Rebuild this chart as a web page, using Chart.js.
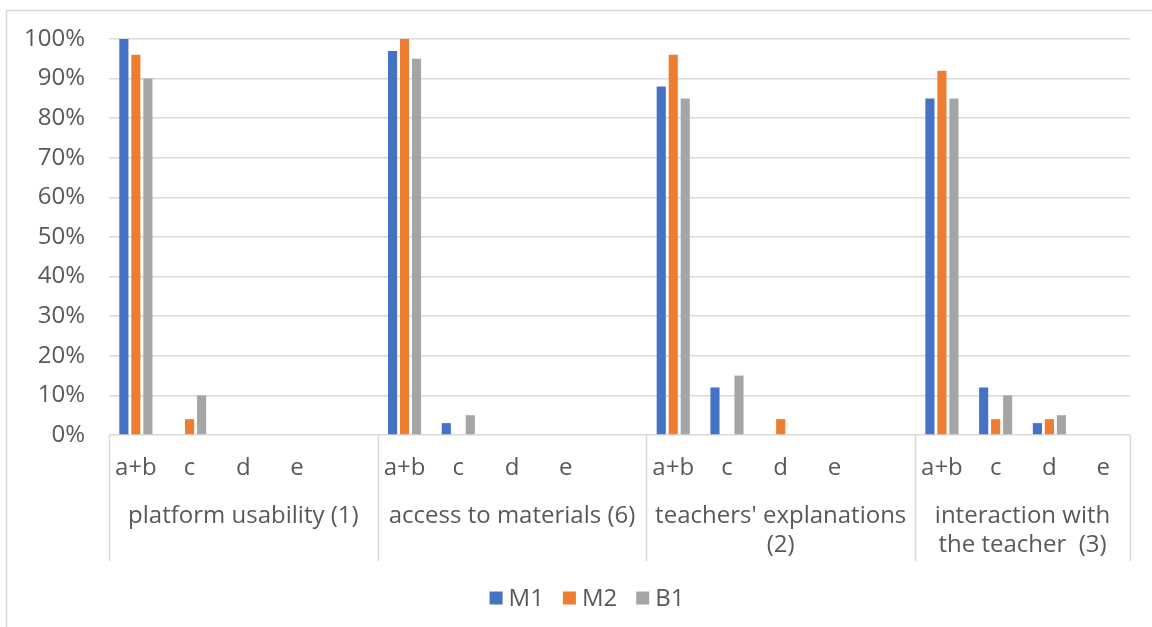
<!DOCTYPE html>
<html>
<head>
<meta charset="utf-8">
<script src="https://cdn.jsdelivr.net/npm/chart.js@4"></script>
<style>
  html, body { margin: 0; padding: 0; background: #fff; }
  canvas { display: block; }
</style>
</head>
<body>
<canvas id="chart" width="1152" height="627"></canvas>
<script>
// Answer categories for each question block (blank slot separates the blocks)
const subLabels = ['a+b', 'c', 'd', 'e', '',
                   'a+b', 'c', 'd', 'e', '',
                   'a+b', 'c', 'd', 'e', '',
                   'a+b', 'c', 'd', 'e'];

// Question blocks and how many category slots each one spans
const groupNames = [
  ['platform usability (1)'],
  ['access to materials (6)'],
  ["teachers' explanations", '(2)'],
  ['interaction with', 'the teacher  (3)']
];
const groupSizes = [5, 5, 5, 4];

// Share of respondents per answer (%)
const seriesNames = ['M1', 'M2', 'B1'];
const m1Values = [100, 0, 0, 0, null,  97, 3, 0, 0, null,  88, 12, 0, 0, null,  85, 12, 3, 0];
const m2Values = [ 96, 4, 0, 0, null, 100, 0, 0, 0, null,  96,  0, 4, 0, null,  92,  4, 4, 0];
const b1Values = [ 90, 10, 0, 0, null, 95, 5, 0, 0, null,  85, 15, 0, 0, null,  85, 10, 5, 0];

const seriesColors = ['#4472C4', '#ED7D31', '#A5A5A5'];
const yTicks = [0, 10, 20, 30, 40, 50, 60, 70, 80, 90, 100];

const FONT_FAMILY = '"Open Sans", "Noto Sans", sans-serif';
const FONT_SIZE = 24;
const TEXT_COLOR = '#595959';
const LINE_COLOR = '#d9d9d9';

// Draws the outer frame, block dividers, block titles and the legend
const categoryFrame = {
  id: 'categoryFrame',
  afterDraw(chart) {
    const ctx = chart.ctx;
    const x = chart.scales.x;
    const area = chart.chartArea;
    const n = subLabels.length;

    ctx.save();
    // outer frame (left and top edges)
    ctx.strokeStyle = LINE_COLOR;
    ctx.lineWidth = 1.5;
    ctx.beginPath();
    ctx.moveTo(6.5, chart.height);
    ctx.lineTo(6.5, 10.5);
    ctx.lineTo(chart.width, 10.5);
    ctx.stroke();

    // boundary pixel between slot b-1 and slot b
    const edge = (b) => {
      if (b <= 0) return area.left;
      if (b >= n) return area.right;
      return (x.getPixelForValue(b - 1) + x.getPixelForValue(b)) / 2;
    };

    const bounds = [0];
    groupSizes.forEach((s) => bounds.push(bounds[bounds.length - 1] + s));

    ctx.beginPath();
    bounds.forEach((b) => {
      const px = Math.round(edge(b)) + 0.5;
      ctx.moveTo(px, area.bottom);
      ctx.lineTo(px, area.bottom + 126);
    });
    ctx.stroke();

    // block titles
    ctx.fillStyle = TEXT_COLOR;
    ctx.font = FONT_SIZE + 'px ' + FONT_FAMILY;
    ctx.textAlign = 'center';
    ctx.textBaseline = 'middle';
    groupNames.forEach((lines, i) => {
      const cx = (edge(bounds[i]) + edge(bounds[i + 1])) / 2;
      lines.forEach((line, j) => {
        ctx.fillText(line, cx, area.bottom + 81 + j * 29);
      });
    });

    // legend
    const box = 13, gapText = 6, gapItem = 19;
    const widths = seriesNames.map((s) => box + gapText + ctx.measureText(s).width);
    const total = widths.reduce((a, b) => a + b, 0) + gapItem * (seriesNames.length - 1);
    let lx = 587 - total / 2;
    const ly = 598;
    ctx.textAlign = 'left';
    seriesNames.forEach((s, i) => {
      ctx.fillStyle = seriesColors[i];
      ctx.fillRect(lx, ly - box / 2, box, box);
      ctx.fillStyle = TEXT_COLOR;
      ctx.fillText(s, lx + box + gapText, ly + 1);
      lx += widths[i] + gapItem;
    });
    ctx.restore();
  }
};

const makeSet = (label, data, color) => ({
  label, data,
  backgroundColor: color,
  borderWidth: 0,
  categoryPercentage: 0.67,
  barPercentage: 0.76
});

new Chart(document.getElementById('chart'), {
  type: 'bar',
  data: {
    labels: subLabels,
    datasets: [
      makeSet(seriesNames[0], m1Values, seriesColors[0]),
      makeSet(seriesNames[1], m2Values, seriesColors[1]),
      makeSet(seriesNames[2], b1Values, seriesColors[2])
    ]
  },
  options: {
    responsive: false,
    animation: false,
    devicePixelRatio: 1,
    layout: { padding: { top: 39, right: 22, left: 0, bottom: 0 } },
    plugins: {
      legend: { display: false },
      tooltip: { enabled: false }
    },
    scales: {
      x: {
        grid: { display: false },
        border: { display: false },
        ticks: {
          autoSkip: false,
          maxRotation: 0,
          padding: 11,
          color: TEXT_COLOR,
          font: { family: FONT_FAMILY, size: FONT_SIZE }
        },
        afterFit(scale) { scale.height = 192; }
      },
      y: {
        min: 0,
        max: 100,
        afterBuildTicks(scale) { scale.ticks = yTicks.map((v) => ({ value: v })); },
        grid: { color: LINE_COLOR, lineWidth: 1.5, drawTicks: false },
        border: { display: false },
        ticks: {
          padding: 24,
          color: TEXT_COLOR,
          font: { family: FONT_FAMILY, size: FONT_SIZE },
          callback: (v) => v + '%'
        },
        afterFit(scale) { scale.width = 109; }
      }
    }
  },
  plugins: [categoryFrame]
});
</script>
</body>
</html>
